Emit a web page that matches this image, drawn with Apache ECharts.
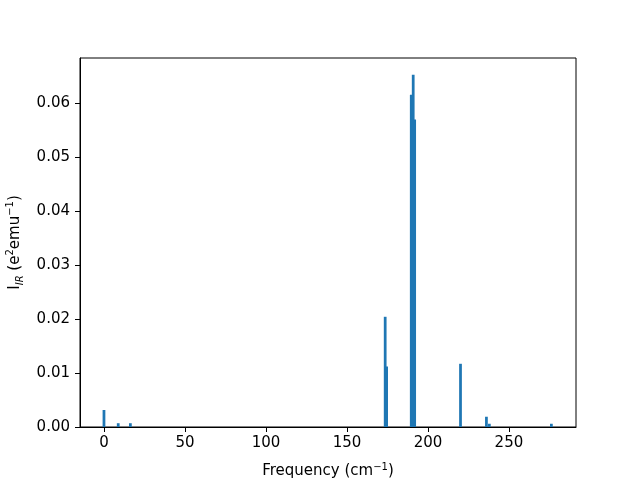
<!DOCTYPE html>
<html>
<head>
<meta charset="utf-8">
<script src="https://cdn.jsdelivr.net/npm/echarts@6/dist/echarts.min.js"></script>
<style>html,body{margin:0;padding:0;background:#fff}#c{width:640px;height:480px}</style>
</head>
<body>
<div id="c"></div>
<script>
const frequencies = [0, 8.8, 16.3, 173.6, 174.5, 189.7, 190.9, 191.8, 220.1, 236.1, 237.9, 276.2];
const intensities = [0.00315, 0.0007, 0.0007, 0.0204, 0.0112, 0.0615, 0.0652, 0.0569, 0.0117, 0.0019, 0.0006, 0.0006];
const xTicks = [0, 50, 100, 150, 200, 250];
const yTicks = [0, 0.01, 0.02, 0.03, 0.04, 0.05, 0.06];
const barWidthUnits = 1.7;

const chart = echarts.init(document.getElementById('c'), null, {renderer: 'canvas'});
const font = 'DejaVu Sans';
const data = frequencies.map((f, i) => [f, intensities[i]]);

chart.setOption({
  animation: false,
  backgroundColor: '#fff',
  grid: {left: 80, right: 64, top: 58, bottom: 53, containLabel: false, outerBoundsMode: 'none',
    show: true, borderColor: '#000', borderWidth: 1, backgroundColor: 'transparent'},
  xAxis: {
    type: 'value', min: -14.8, max: 291.4,
    splitLine: {show: false},
    axisLine: {onZero: false, lineStyle: {color: '#000', width: 1}},
    axisTick: {show: true, length: 5, lineStyle: {color: '#000'}, customValues: xTicks},
    axisLabel: {customValues: xTicks, color: '#000', fontFamily: font, fontSize: 15, margin: 9},
    name: '{b|Frequency (cm}{s|−1}{b|)}',
    nameLocation: 'middle', nameGap: 35,
    nameTextStyle: {fontFamily: font, fontSize: 15, color: '#000',
      rich: {b: {fontFamily: font, fontSize: 15, color: '#000', verticalAlign: 'bottom'},
             s: {fontFamily: font, fontSize: 10, color: '#000', verticalAlign: 'bottom', padding: [0, 0, 7, 0]}}}
  },
  yAxis: {
    type: 'value', min: 0, max: 0.0683,
    splitLine: {show: false},
    axisLine: {show: true, onZero: false, lineStyle: {color: '#000', width: 1}},
    axisTick: {show: true, length: 5, lineStyle: {color: '#000'}, customValues: yTicks},
    axisLabel: {customValues: yTicks, color: '#000', fontFamily: font, fontSize: 15, margin: 10,
      formatter: v => v.toFixed(2)},
    name: '{b|I}{sub|IR}{b| (e}{s|2}{b|emu}{s|−1}{b|)}',
    nameLocation: 'middle', nameGap: 54, nameRotate: 90,
    nameTextStyle: {fontFamily: font, fontSize: 15, color: '#000',
      rich: {b: {fontFamily: font, fontSize: 15, color: '#000', verticalAlign: 'bottom'},
             sub: {fontFamily: font, fontSize: 10, fontStyle: 'italic', color: '#000', verticalAlign: 'bottom', padding: [0, 0, -3, 0]},
             s: {fontFamily: font, fontSize: 10, color: '#000', verticalAlign: 'bottom', padding: [0, 0, 7, 0]}}}
  },
  series: [{
    type: 'custom',
    data: data,
    clip: true,
    renderItem: function (params, api) {
      const x = api.value(0), y = api.value(1);
      const p0 = api.coord([x - barWidthUnits / 2, y]);
      const p1 = api.coord([x + barWidthUnits / 2, 0]);
      return {type: 'rect', shape: {x: p0[0], y: p0[1], width: p1[0] - p0[0], height: p1[1] - p0[1]},
        style: {fill: '#1f77b4'}};
    }
  }]
});
</script>
</body>
</html>
